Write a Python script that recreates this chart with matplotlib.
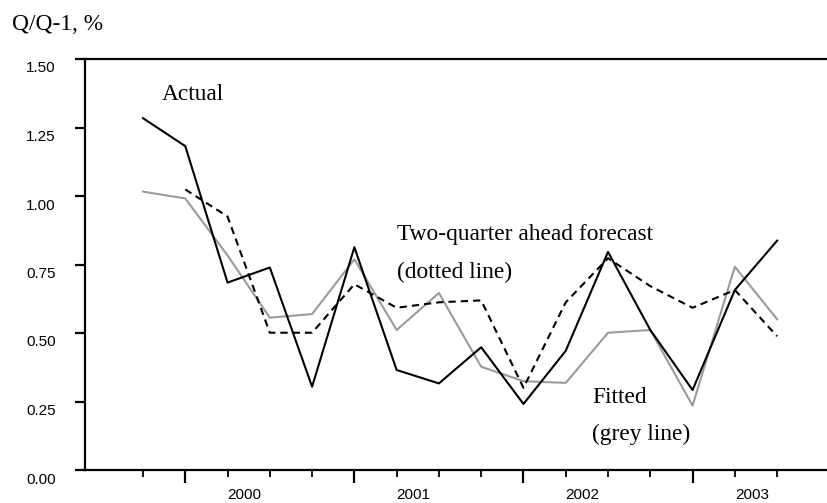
import matplotlib
matplotlib.use("Agg")
import matplotlib.pyplot as plt
import matplotlib.transforms as mtransforms
import numpy as np

# Quarterly data, 1999Q4 .. 2003Q3 (index 0..15)
quarters = np.arange(16)
actual = [1.284, 1.182, 0.684, 0.739, 0.304, 0.813, 0.365, 0.316,
          0.448, 0.241, 0.435, 0.796, 0.511, 0.292, 0.657, 0.837]
fitted = [1.016, 0.991, 0.783, 0.556, 0.569, 0.769, 0.511, 0.646,
          0.377, 0.324, 0.318, 0.501, 0.511, 0.235, 0.742, 0.550]
forecast_q = np.arange(1, 16)
forecast = [1.024, 0.925, 0.501, 0.501, 0.678, 0.592, 0.612, 0.619,
            0.300, 0.612, 0.773, 0.671, 0.592, 0.657, 0.488]

years = ["2000", "2001", "2002", "2003"]
year_start = [1, 5, 9, 13]
y_ticks = [0.0, 0.25, 0.5, 0.75, 1.0, 1.25, 1.5]

serif = "Liberation Serif"
sans = "Liberation Sans"

fig = plt.figure(figsize=(8.27, 5.03), dpi=100)
ax = fig.add_axes([85 / 827, 1 - 470 / 503, 1 - 85 / 827, (470 - 59) / 503])

ax.plot(quarters, fitted, color="#9a9a9a", lw=1.5)
ax.plot(forecast_q, forecast, color="black", lw=1.5, linestyle=(0, (3.5, 2.4)))
ax.plot(quarters, actual, color="black", lw=1.5)

ax.set_xlim(-1.372, 16.18)
ax.set_ylim(0, 1.5)

# spines
for s in ["left", "top", "bottom"]:
    ax.spines[s].set_linewidth(1.6)
ax.spines["right"].set_visible(False)

# y axis
ax.set_yticks(y_ticks)
ax.set_yticklabels([f"{v:.2f}" for v in y_ticks], fontfamily=sans, fontsize=11)
ax.tick_params(axis="y", direction="out", length=7, width=1.6, pad=14)
offset = mtransforms.ScaledTranslation(0, -8 / 100, fig.dpi_scale_trans)
for lab in ax.get_yticklabels():
    lab.set_transform(lab.get_transform() + offset)

# x axis: long ticks at start of each year, short ones for the other quarters
ax.set_xticks(year_start)
ax.set_xticklabels([])
ax.set_xticks([q for q in quarters if q not in year_start], minor=True)
ax.tick_params(axis="x", which="major", direction="out", length=9, width=1.6)
ax.tick_params(axis="x", which="minor", direction="out", length=5, width=1.3)

trans = mtransforms.blended_transform_factory(ax.transData, ax.transAxes)
for yr, start in zip(years, year_start):
    ax.text(start + 1.4, -25 / 411, yr, transform=trans, ha="center", va="center",
            fontfamily=sans, fontsize=11)

# annotations
ax.text(0.45, 1.350, "Actual", fontfamily=serif, fontsize=16.8, va="baseline")
ax.text(6.01, 0.839, "Two-quarter ahead forecast", fontfamily=serif, fontsize=16.8, va="baseline")
ax.text(6.01, 0.701, "(dotted line)", fontfamily=serif, fontsize=16.8, va="baseline")
ax.text(10.62, 0.246, "Fitted", fontfamily=serif, fontsize=16.8, va="baseline")
ax.text(10.62, 0.109, "(grey line)", fontfamily=serif, fontsize=16.8, va="baseline")

fig.text(12 / 827, 1 - 30 / 503, "Q/Q-1, %", fontfamily=serif, fontsize=16.8, va="baseline")

fig.savefig("out.png", dpi=100)
